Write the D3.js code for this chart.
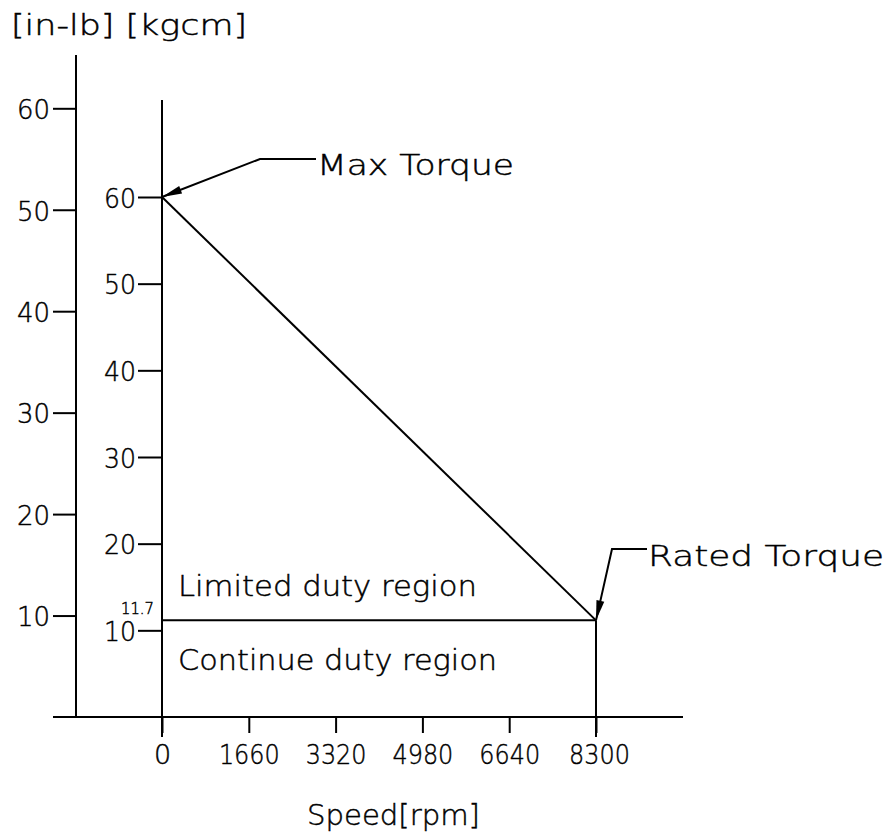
<!DOCTYPE html>
<html>
<head>
<meta charset="utf-8">
<script src="https://cdn.jsdelivr.net/npm/d3@7/dist/d3.min.js"></script>
<style>
  html, body { margin: 0; padding: 0; background: #fff; }
  svg { display: block; }
  text { font-family: "DejaVu Sans", "Liberation Sans", Arial, sans-serif; font-weight: 200; fill: #000; stroke: #000; stroke-width: 0.45px; }
</style>
</head>
<body>
<script>
// ---- data ----
const speedTicks = [0, 1660, 3320, 4980, 6640, 8300];
const torqueInLbTicks = [10, 20, 30, 40, 50, 60];
const torqueKgcmTicks = [10, 20, 30, 40, 50, 60];
const curveSpeed = [0, 8300];
const curveTorqueKgcm = [60, 11.15];
const ratedTorqueLabel = "11.7";
const unitsLabel = "[in-lb]  [kgcm]";
const xAxisLabel = "Speed[rpm]";
const maxTorqueLabel = "Max Torque";
const ratedTorqueText = "Rated Torque";
const limitedLabel = "Limited duty region";
const continueLabel = "Continue duty region";

// ---- layout ----
const W = 889, H = 836;
const FONT = '"DejaVu Sans", "Liberation Sans", Arial, sans-serif';
const svg = d3.select("body").append("svg").attr("width", W).attr("height", H);

const x = d3.scaleLinear().domain([0, 8300]).range([162, 596]);
const yKg = d3.scaleLinear().domain([0, 60]).range([717, 197]);
const yIn = d3.scaleLinear().domain([0, 60]).range([717, 108.3]);

const baseY = yKg(0);
const outerX = 76;
const stroke = 2;

function line(x1, y1, x2, y2) {
  svg.append("line").attr("x1", x1).attr("y1", y1).attr("x2", x2).attr("y2", y2)
    .attr("stroke", "#000").attr("stroke-width", stroke);
}
function label(t, xx, yy, size, width, anchor) {
  const el = svg.append("text").attr("x", xx).attr("y", yy)
    .attr("font-size", size).attr("text-anchor", anchor || "start").text(t);
  if (width) el.attr("textLength", width).attr("lengthAdjust", "spacingAndGlyphs");
  return el;
}
function styleTicks(g, size, perChar) {
  g.select(".domain").remove();
  g.selectAll(".tick line").attr("stroke", "#000").attr("stroke-width", stroke);
  g.attr("font-family", FONT).attr("font-size", size);
  g.selectAll(".tick text")
    .attr("font-size", size)
    .attr("fill", "#000")
    .each(function() {
      const s = d3.select(this).text();
      if (s.length > 1) d3.select(this).attr("textLength", s.length * perChar).attr("lengthAdjust", "spacingAndGlyphs");
    });
}

// baseline and axis lines
line(53, baseY, 683, baseY);
line(outerX, 55, outerX, baseY);
line(x(0), 100, x(0), 737);

// outer in-lb axis
const gIn = svg.append("g").attr("transform", `translate(${outerX},0)`)
  .call(d3.axisLeft(yIn).tickValues(torqueInLbTicks).tickSize(23).tickPadding(3).tickFormat(d3.format("d")));
styleTicks(gIn, 27, 16.5);
gIn.selectAll(".tick text").attr("dy", "0.38em");

// inner kgcm axis
const gKg = svg.append("g").attr("transform", `translate(${x(0)},0)`)
  .call(d3.axisLeft(yKg).tickValues(torqueKgcmTicks).tickSize(24).tickPadding(2).tickFormat(d3.format("d")));
styleTicks(gKg, 27, 16);
gKg.selectAll(".tick text").attr("dy", "0.38em");

// speed axis
const gX = svg.append("g").attr("transform", `translate(0,${baseY})`)
  .call(d3.axisBottom(x).tickValues(speedTicks).tickSize(16).tickPadding(12).tickFormat(d3.format("d")));
styleTicks(gX, 27, 15.2);
gX.selectAll(".tick text").attr("dy", "0.72em");
gX.selectAll(".tick text").filter(d => d === 8300).attr("dx", 3);

// torque curve
const p0 = [x(curveSpeed[0]), yKg(curveTorqueKgcm[0])];
const p1 = [x(curveSpeed[1]), yKg(curveTorqueKgcm[1])];
line(p0[0], p0[1], p1[0], p1[1]);
line(x(0), p1[1], p1[0], p1[1]);
line(p1[0], p1[1], p1[0], 737);

// leaders with arrowheads
function leader(tip, elbow, end) {
  svg.append("path").attr("d", `M${end[0]},${end[1]}L${elbow[0]},${elbow[1]}L${tip[0]},${tip[1]}`)
    .attr("fill", "none").attr("stroke", "#000").attr("stroke-width", stroke);
  const dx = elbow[0] - tip[0], dy = elbow[1] - tip[1];
  const len = Math.hypot(dx, dy), ux = dx / len, uy = dy / len;
  const L = 20, hw = 4;
  const bx = tip[0] + ux * L, by = tip[1] + uy * L;
  svg.append("path")
    .attr("d", `M${tip[0]},${tip[1]}L${bx - uy * hw},${by + ux * hw}L${bx + uy * hw},${by - ux * hw}Z`)
    .attr("fill", "#000");
}
leader(p0, [260, 159], [316, 159]);
leader(p1, [612, 549], [647, 549]);

// texts
label(unitsLabel, 11, 35, 28, 236);
label(maxTorqueLabel, 317, 175, 28, 197);
label(ratedTorqueText, 648, 566, 28, 236);
label(limitedLabel, 178, 596, 28, 299);
label(continueLabel, 178, 670, 28, 319);
label(xAxisLabel, 307, 825, 28, 173);
label(ratedTorqueLabel, 121, 614, 15, 33);
</script>
</body>
</html>
